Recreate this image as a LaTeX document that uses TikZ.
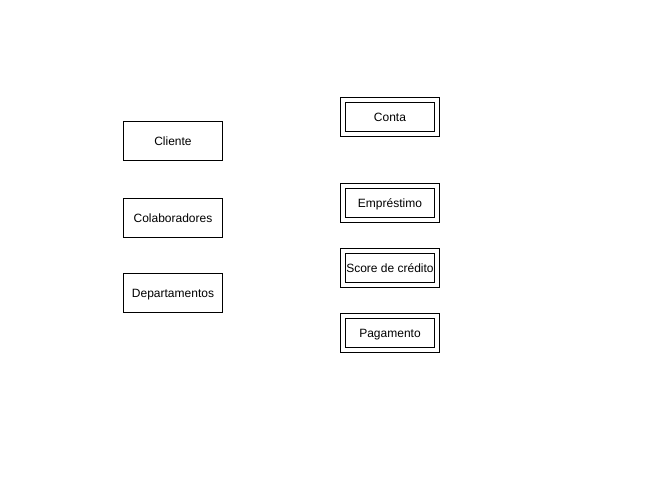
\documentclass[tikz,border=0pt]{standalone}
\usepackage{fontspec}
\setmainfont{Liberation Sans}
\usetikzlibrary{positioning}

\tikzset{
    entity/.style={draw, line width=1pt, minimum width=99pt, minimum height=39pt,
        inner sep=1pt, text height=9.5pt, text depth=0.3pt,
        font=\fontsize{12}{14}\selectfont},
    weak entity/.style={draw, line width=1pt, double, double distance=4pt,
        minimum width=94pt, minimum height=34pt, inner sep=1pt,
        text height=9.5pt, text depth=0.3pt,
        font=\fontsize{12}{14}\selectfont}
}

\begin{document}
\begin{tikzpicture}[x=1pt,y=1pt]
    \useasboundingbox (0,0) rectangle (665,-486);

    \node[entity] (cliente) at (173,-141) {Cliente};
    \node[entity] (colaboradores) [below=37pt of cliente] {Colaboradores};
    \node[entity] (departamentos) [below=35pt of colaboradores] {Departamentos};

    \node[weak entity] (conta) at (390,-117) {Conta};
    \node[weak entity] (emprestimo) at (390,-203) {Empréstimo};
    \node[weak entity] (score) at (390,-268) {Score de crédito};
    \node[weak entity] (pagamento) at (390,-333) {Pagamento};
\end{tikzpicture}
\end{document}
